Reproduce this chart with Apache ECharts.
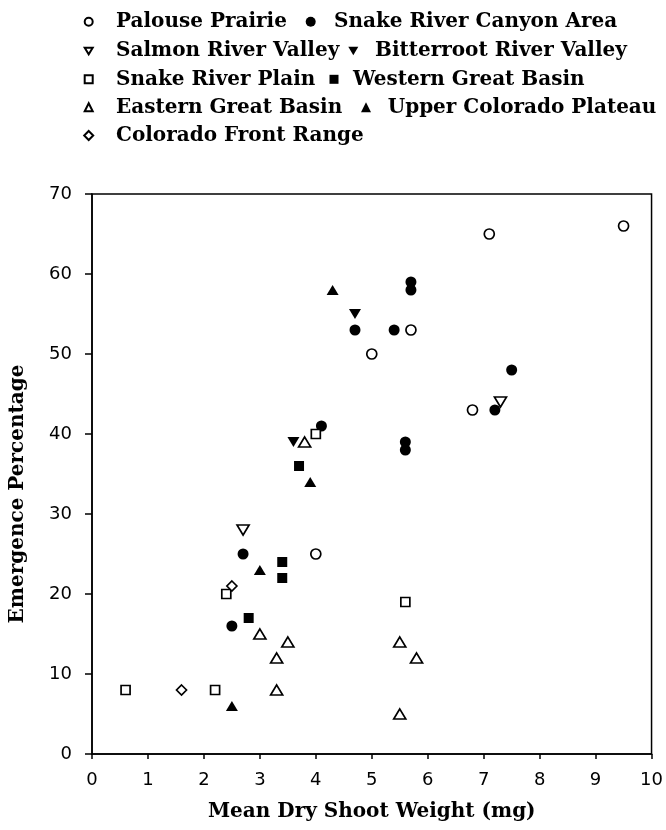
<!DOCTYPE html>
<html>
<head>
<meta charset="utf-8">
<script src="https://cdn.jsdelivr.net/npm/echarts@6/dist/echarts.min.js"></script>
<style>html,body{margin:0;padding:0;background:#fff;}#c{width:666px;height:830px;}</style>
</head>
<body>
<div id="c"></div>
<script>
const xTicks = [0,1,2,3,4,5,6,7,8,9,10];
const yTicks = [0,10,20,30,40,50,60,70];
const palousePrairie = [[9.5,66],[7.1,65],[5.7,53],[5.0,50],[6.8,43],[4.0,25]];
const snakeRiverCanyon = [[5.7,59],[5.7,58],[4.7,53],[5.4,53],[7.5,48],[7.2,43],[4.1,41],[5.6,39],[5.6,38],[2.7,25],[2.5,16]];
const salmonRiverValley = [[7.3,44],[2.7,28]];
const bitterrootRiverValley = [[4.7,55],[3.6,39]];
const snakeRiverPlain = [[4.0,40],[2.4,20],[5.6,19],[0.6,8],[2.2,8]];
const westernGreatBasin = [[3.7,36],[3.4,24],[3.4,22],[2.8,17]];
const easternGreatBasin = [[3.8,39],[3.0,15],[3.5,14],[3.3,12],[3.3,8],[5.5,14],[5.8,12],[5.5,5]];
const upperColoradoPlateau = [[4.3,58],[3.9,34],[3.0,23],[2.5,6]];
const coloradoFrontRange = [[2.5,21],[1.6,8]];

const FONT = 'DejaVu Serif';
const DOWN = 'path://M0,0L12,0L6,10Z';
const open = {color:'#fff', borderColor:'#000', borderWidth:1.7, opacity:1};
const filled = {color:'#000', borderColor:'#000', borderWidth:0, opacity:1};

const seriesDefs = [
  {name:'Palouse Prairie', data:palousePrairie, symbol:'circle', size:10, style:open, icon:8},
  {name:'Snake River Canyon Area', data:snakeRiverCanyon, symbol:'circle', size:11, style:filled, icon:10},
  {name:'Salmon River Valley', data:salmonRiverValley, symbol:DOWN, size:[12,10], style:open, icon:8},
  {name:'Bitterroot River Valley', data:bitterrootRiverValley, symbol:DOWN, size:[12,10], style:filled, icon:10},
  {name:'Snake River Plain', data:snakeRiverPlain, symbol:'rect', size:9, style:open, icon:8},
  {name:'Western Great Basin', data:westernGreatBasin, symbol:'rect', size:10, style:filled, icon:9},
  {name:'Eastern Great Basin', data:easternGreatBasin, symbol:'triangle', size:[12,10], style:open, icon:8},
  {name:'Upper Colorado Plateau', data:upperColoradoPlateau, symbol:'triangle', size:[12,10], style:filled, icon:10},
  {name:'Colorado Front Range', data:coloradoFrontRange, symbol:'diamond', size:10, style:open, icon:9}
];

// legend placement: [markerCenterX, textStartX, lineCenterY]
const legendPos = [
  [87.7,115,21.7],[310.7,334,21.7],
  [87.7,115,51],[353.3,375,51],
  [87.7,115,79.3],[334,353,79.3],
  [87.7,115,107.3],[366,387.7,107.3],
  [87.7,115,135.5]
];
const LH = 22;
const legends = seriesDefs.map((s,i)=>{
  const [m,t,y] = legendPos[i];
  const iconS = s.icon;
  return {
    data:[{name:s.name, icon:s.symbol}], left:m-iconS/2, top:y-LH/2, padding:0,
    itemWidth:iconS, itemHeight:iconS, selectedMode:false,
    textStyle:{fontFamily:FONT, fontSize:20, fontWeight:'bold', color:'#000',
      lineHeight:LH, padding:[0,0,0,t-m-iconS/2-5]}
  };
});

const chart = echarts.init(document.getElementById('c'), null, {renderer:'canvas'});
chart.setOption({
  animation:false,
  backgroundColor:'#fff',
  legend: legends,
  grid:{left:91, right:14, top:194, bottom:76, show:true, borderColor:'#000', borderWidth:1.5},
  xAxis:{
    type:'value', min:0, max:10, interval:1,
    name:'Mean Dry Shoot Weight (mg)', nameLocation:'middle', nameGap:48,
    nameTextStyle:{fontFamily:FONT, fontSize:20, fontWeight:'bold', color:'#000'},
    axisLine:{show:true, lineStyle:{color:'#000', width:1.5}},
    axisTick:{show:true, length:5, lineStyle:{color:'#000', width:1.5}},
    axisLabel:{margin:17, fontFamily:'DejaVu Sans', fontSize:18, color:'#000',
      formatter:v=>xTicks.includes(v)?String(v):''},
    splitLine:{show:false}
  },
  yAxis:{
    type:'value', min:0, max:70, interval:10,
    name:'Emergence Percentage', nameLocation:'middle', nameGap:64,
    nameTextStyle:{fontFamily:FONT, fontSize:20, fontWeight:'bold', color:'#000', padding:[0,40,0,0]},
    axisLine:{show:true, lineStyle:{color:'#000', width:1.5}},
    axisTick:{show:true, length:7, lineStyle:{color:'#000', width:1.5}},
    axisLabel:{margin:20, fontFamily:'DejaVu Sans', fontSize:18, color:'#000',
      formatter:v=>yTicks.includes(v)?String(v):''},
    splitLine:{show:false}
  },
  series: seriesDefs.map(s=>({
    name:s.name, type:'scatter', data:s.data, symbol:s.symbol, symbolSize:s.size,
    itemStyle:s.style, emphasis:{disabled:true}
  }))
});
</script>
</body>
</html>
